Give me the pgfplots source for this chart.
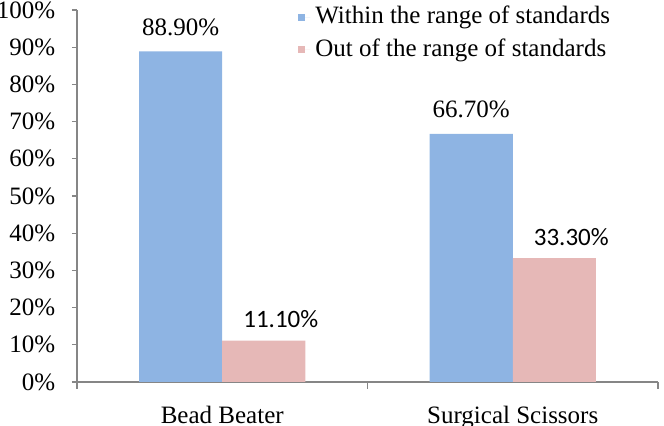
\documentclass[border=0pt]{standalone}
\usepackage{pgfplots}
\pgfplotsset{compat=1.18}
\usepackage{fontspec}
\setmainfont{Liberation Serif}
\newfontfamily\carlito{Carlito}
\definecolor{barblue}{HTML}{8EB4E3}
\definecolor{barpink}{HTML}{E6B8B7}
\definecolor{axgray}{HTML}{868686}
\begin{document}
\fontsize{12.5pt}{15pt}\selectfont
\begin{tikzpicture}
\begin{axis}[
  scale only axis,
  width=290.5pt, height=186pt,
  ybar=0pt, bar width=0.286,
  xmin=-0.5, xmax=1.5,
  ymin=0, ymax=100,
  xtick={0,1},
  xticklabels={Bead Beater, Surgical Scissors},
  major x tick style={draw=none},
  minor xtick={-0.5,0.5,1.5},
  minor x tick style={draw=axgray, line width=0.6pt},
  minor tick length=3.5pt,
  ytick={0,10,...,100},
  yticklabel={\pgfmathprintnumber{\tick}\%},
  /pgf/number format/assume math mode=true,
  tick align=outside,
  major tick length=2.5pt,
  tick style={axgray, line width=0.6pt},
  axis lines*=left,
  axis line style={axgray, line width=0.6pt, -},
  y tick label style={xshift=-4pt},
  x tick label style={yshift=-5pt},
  point meta=explicit symbolic,
  legend style={draw=none, fill=none, at={(0.37,1.035)}, anchor=north west,
    row sep=0.5pt, nodes={inner sep=2.5pt}, legend cell align=left},
  legend image code/.code={\fill[#1] (0pt,-1.75pt) rectangle (3.5pt,1.75pt);
    \path (0pt,0pt) -- (6pt,0pt);},
]
\addplot[fill=barblue, draw=none, nodes near coords={\rmfamily\pgfplotspointmeta},
  every node near coord/.append style={yshift=3.5pt}]
  coordinates {(0,88.9) [88.90\%] (1,66.7) [66.70\%]};
\addplot[fill=barpink, draw=none, nodes near coords={\carlito\pgfplotspointmeta},
  every node near coord/.append style={yshift=2pt, xshift=8.5pt}]
  coordinates {(0,11.1) [11.10\%] (1,33.3) [33.30\%]};
\legend{Within the range of standards, Out of the range of standards}
\end{axis}
\pgfresetboundingbox
\path[use as bounding box] ([shift={(-38.5pt,-22pt)}]current axis.south west) rectangle ([shift={(3pt,5pt)}]current axis.north east);
\end{tikzpicture}
\end{document}
